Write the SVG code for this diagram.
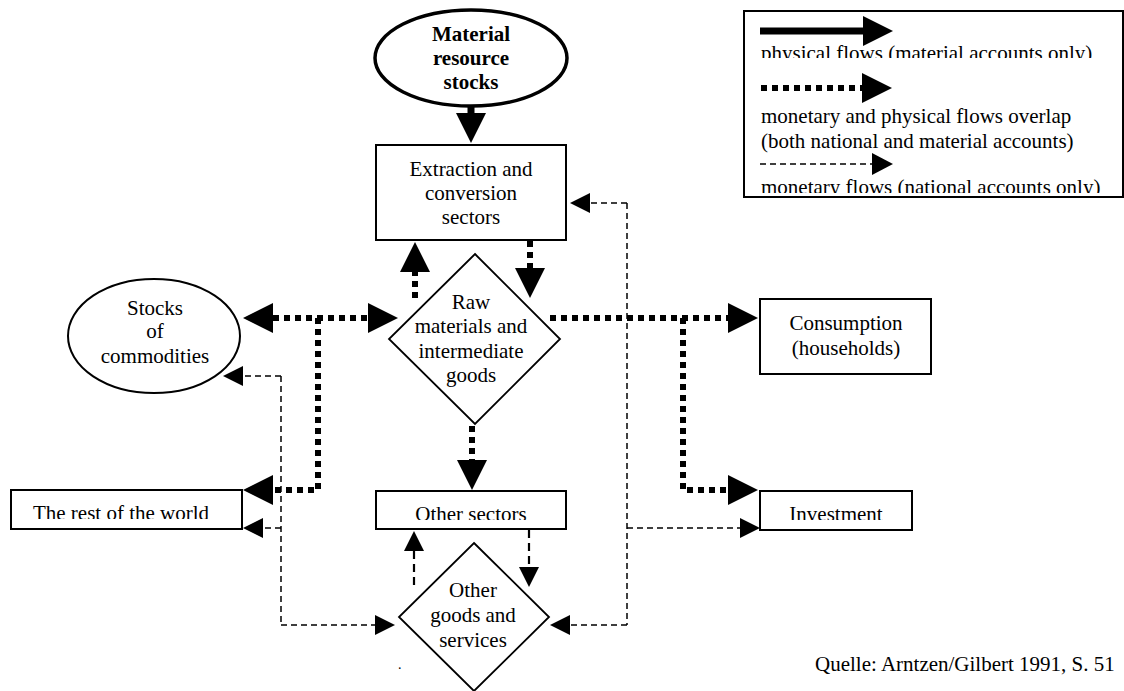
<svg xmlns="http://www.w3.org/2000/svg" width="1124" height="691" viewBox="0 0 1124 691">
<style>
text{font-family:"Liberation Serif","Times New Roman",serif;font-size:21px;fill:#000}
.c{text-anchor:middle}
.b{font-weight:bold}
.box{fill:#fff;stroke:#000;stroke-width:2}
.dia{fill:#fff;stroke:#000;stroke-width:1.8}
.solid{fill:none;stroke:#000;stroke-width:7}
.dot{fill:none;stroke:#000;stroke-width:6;stroke-dasharray:6 5}
.dash{fill:none;stroke:#000;stroke-width:1.5;stroke-dasharray:6 4}
.dash2{fill:none;stroke:#000;stroke-width:2.2;stroke-dasharray:8 5}
</style>
<defs>
<marker id="big" markerUnits="userSpaceOnUse" markerWidth="30" markerHeight="30" viewBox="0 0 30 30" refX="0" refY="15" orient="auto-start-reverse"><path d="M0,0 L30,15 L0,30 Z" fill="#000"/></marker>
<marker id="small" markerUnits="userSpaceOnUse" markerWidth="20" markerHeight="20" viewBox="0 0 20 20" refX="0" refY="10" orient="auto-start-reverse"><path d="M0,0 L20,10 L0,20 Z" fill="#000"/></marker>
<marker id="leg3" markerUnits="userSpaceOnUse" markerWidth="21" markerHeight="22" viewBox="0 0 21 22" refX="0" refY="11" orient="auto"><path d="M0,0 L21,11 L0,22 Z" fill="#000"/></marker>
<clipPath id="clipL1" clipPathUnits="userSpaceOnUse"><rect x="744" y="30" width="379" height="28"/></clipPath>
<clipPath id="clipL4" clipPathUnits="userSpaceOnUse"><rect x="744" y="165" width="379" height="28"/></clipPath>
<clipPath id="clipRW" clipPathUnits="userSpaceOnUse"><rect x="11" y="491" width="231" height="28"/></clipPath>
<clipPath id="clipOS" clipPathUnits="userSpaceOnUse"><rect x="376" y="492" width="190" height="28"/></clipPath>
<clipPath id="clipIN" clipPathUnits="userSpaceOnUse"><rect x="760" y="492" width="152" height="28"/></clipPath>
</defs>

<g id="connectors">
<path class="solid" d="M471,105 V113" marker-end="url(#big)"/>
<path class="dot" d="M273,318 H368" marker-start="url(#big)" marker-end="url(#big)"/>
<path class="dot" d="M318,318 V490 H273" marker-end="url(#big)"/>
<path class="dot" d="M415,298 V272" marker-end="url(#big)"/>
<path class="dot" d="M530,241 V268" marker-end="url(#big)"/>
<path class="dot" d="M472,426 V460" marker-end="url(#big)"/>
<path class="dot" d="M550,318 H728" marker-end="url(#big)"/>
<path class="dot" d="M683,318 V490 H728" marker-end="url(#big)"/>
<path class="dash" d="M627,203 H590" marker-end="url(#small)"/>
<path class="dash" d="M627,203 V625"/>
<path class="dash" d="M627,528 H740" marker-end="url(#small)"/>
<path class="dash" d="M627,625 H570" marker-end="url(#small)"/>
<path class="dash" d="M281,376 H243" marker-end="url(#small)"/>
<path class="dash" d="M281,376 V625"/>
<path class="dash" d="M281,528 H263" marker-end="url(#small)"/>
<path class="dash" d="M281,625 H375" marker-end="url(#small)"/>
<path class="dash2" d="M414,585 V551" marker-end="url(#small)"/>
<path class="dash2" d="M529,530 V567" marker-end="url(#small)"/>
</g>

<g id="material-resource-stocks">
<ellipse cx="471" cy="58" rx="96" ry="48" fill="#fff" stroke="#000" stroke-width="3.5"/>
<text class="c b" x="471" y="41">Material</text>
<text class="c b" x="471" y="65">resource</text>
<text class="c b" x="471" y="89">stocks</text>
</g>

<g id="extraction">
<rect class="box" x="376" y="145" width="190" height="95"/>
<text class="c" x="471" y="176">Extraction and</text>
<text class="c" x="471" y="200">conversion</text>
<text class="c" x="471" y="224">sectors</text>
</g>

<g id="raw-materials">
<polygon class="dia" points="475,254 560,339 475,424 389,339"/>
<text class="c" x="471" y="309">Raw</text>
<text class="c" x="471" y="333">materials and</text>
<text class="c" x="471" y="358">intermediate</text>
<text class="c" x="471" y="382">goods</text>
</g>

<g id="stocks-of-commodities">
<ellipse cx="154" cy="336" rx="86" ry="57" fill="#fff" stroke="#000" stroke-width="2"/>
<text class="c" x="155" y="315">Stocks</text>
<text class="c" x="155" y="338">of</text>
<text class="c" x="155" y="363">commodities</text>
</g>

<g id="rest-of-world">
<rect class="box" x="11" y="490" width="231" height="39"/>
<text class="c" x="121" y="520" clip-path="url(#clipRW)">The rest of the world</text>
</g>

<g id="other-sectors">
<rect class="box" x="376" y="491" width="190" height="38"/>
<text class="c" x="471" y="521" clip-path="url(#clipOS)">Other sectors</text>
</g>

<g id="other-goods">
<polygon class="dia" points="474,543 549,617 474,691 399,617"/>
<text class="c" x="473" y="597">Other</text>
<text class="c" x="473" y="622">goods and</text>
<text class="c" x="473" y="647">services</text>
</g>

<g id="consumption">
<rect class="box" x="760" y="299" width="171" height="75"/>
<text class="c" x="846" y="330">Consumption</text>
<text class="c" x="846" y="355">(households)</text>
</g>

<g id="investment">
<rect class="box" x="760" y="491" width="152" height="39"/>
<text class="c" x="836" y="521" clip-path="url(#clipIN)">Investment</text>
</g>

<g id="legend">
<rect class="box" x="744" y="11" width="379" height="186"/>
<path class="solid" d="M760,31 H863" marker-end="url(#big)"/>
<text x="761" y="60" clip-path="url(#clipL1)">physical flows (material accounts only)</text>
<path class="dot" d="M761,88 H862" marker-end="url(#big)"/>
<text x="761" y="123">monetary and physical flows overlap</text>
<text x="761" y="148">(both national and material accounts)</text>
<path class="dash" d="M760,164 H872" marker-end="url(#leg3)"/>
<text x="761" y="194" clip-path="url(#clipL4)">monetary flows (national accounts only)</text>
</g>

<g id="source">
<text x="398" y="669" style="font-size:14px">.</text>
<text x="815" y="671">Quelle: Arntzen/Gilbert 1991, S. 51</text>
</g>
</svg>
